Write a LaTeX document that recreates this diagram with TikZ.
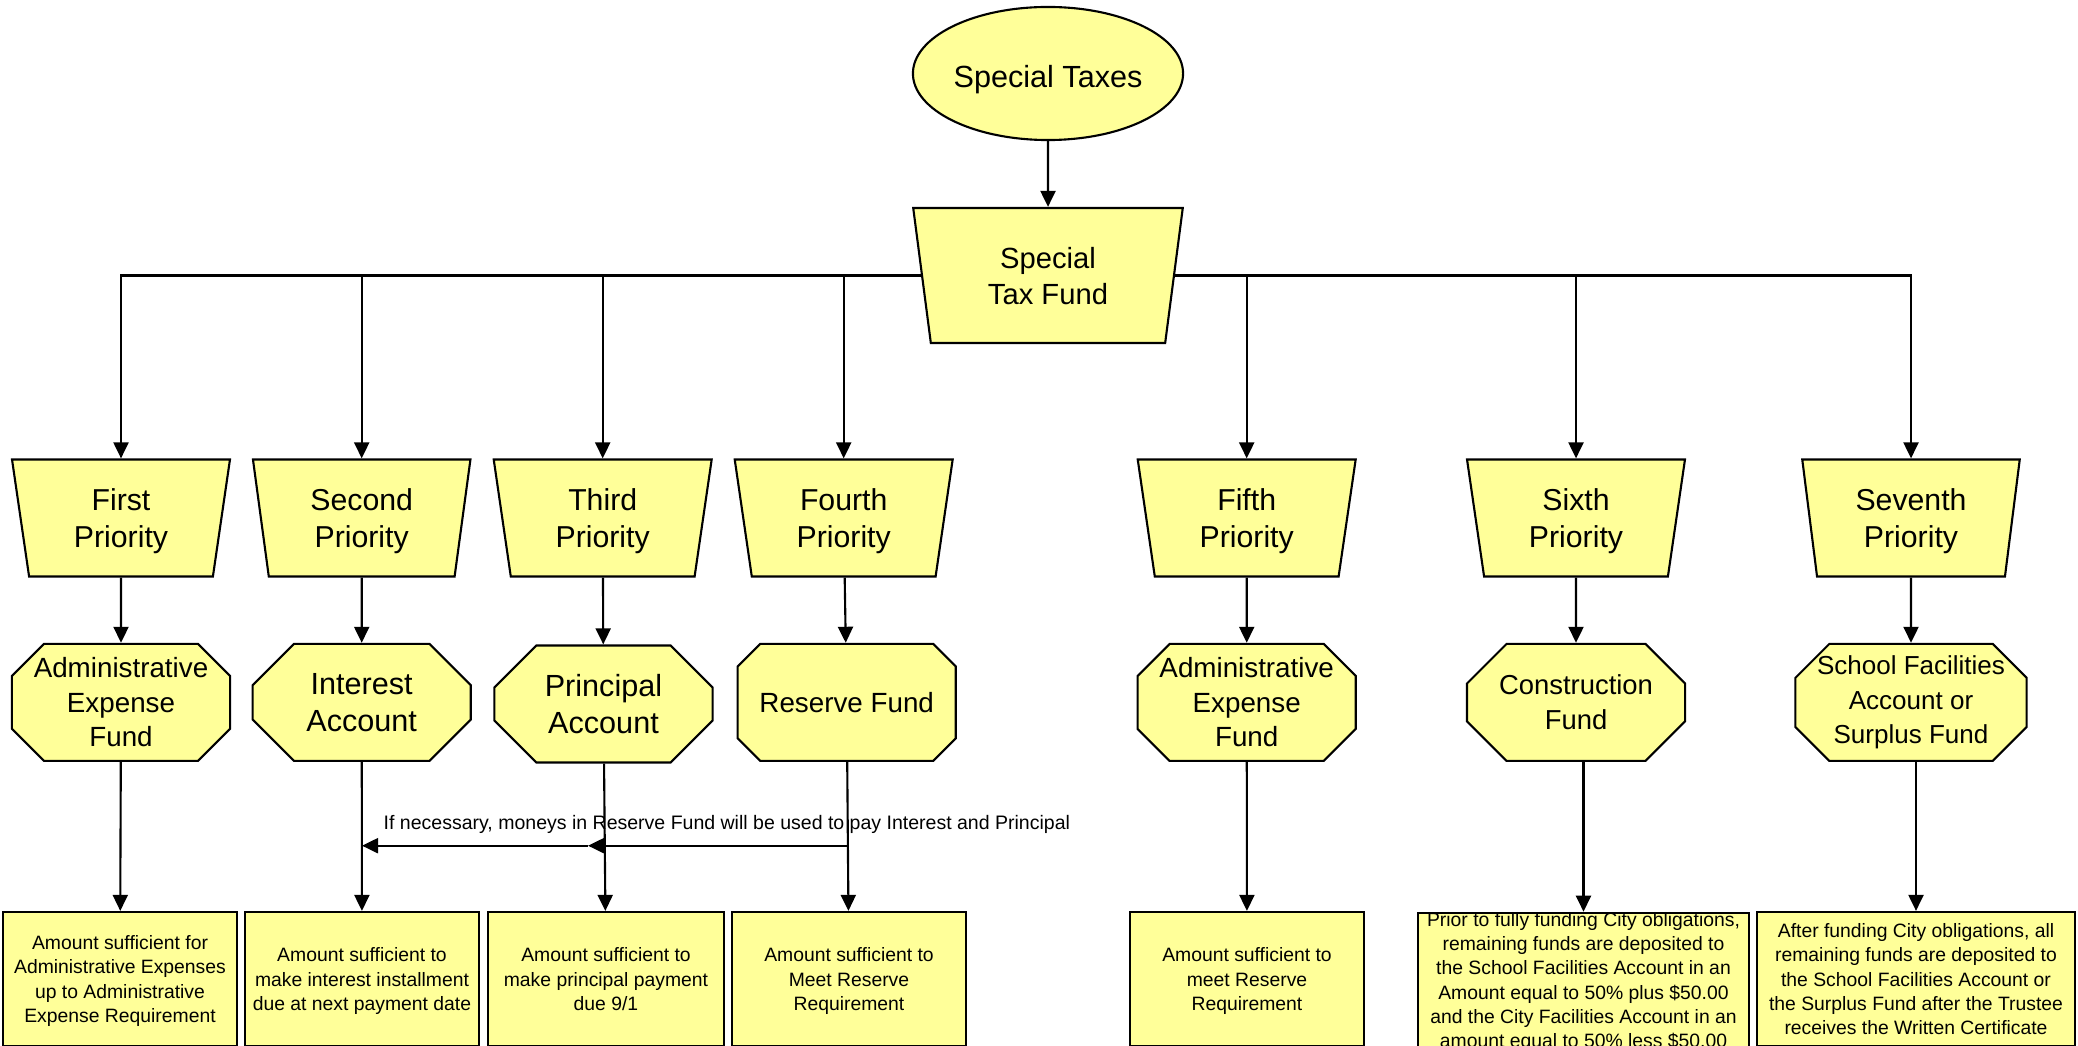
\documentclass[tikz,border=0pt]{standalone}
\usepackage{fontspec}
\setmainfont{Liberation Sans}
\usepackage{xcolor}
\usetikzlibrary{shapes.geometric,shapes.misc,arrows.meta}
\definecolor{fundyellow}{HTML}{FFFF99}

\begin{document}
\begin{tikzpicture}[x=0.01cm, y=-0.01cm, % one unit = one pixel of the page
    every node/.style={inner sep=0pt, align=center},
    outline/.style={draw, line width=0.6pt, fill=fundyellow},
    priority/.style={outline, trapezium, trapezium left angle=98.5, trapezium right angle=98.5, text depth=0pt,
        trapezium stretches, minimum width=2.18cm, minimum height=1.17cm, font=\fontsize{8.6}{10.4}\selectfont},
    account/.style={outline, chamfered rectangle, chamfered rectangle xsep=0.34cm,
        minimum width=2.18cm, minimum height=1.17cm, font=\fontsize{7.9}{9.8}\selectfont},
    tall/.style={inner ysep=-0.25cm}, % three lines of text inside an octagon
    amount/.style={outline, rectangle, minimum width=2.34cm, minimum height=1.34cm, text depth=0pt,
        font=\fontsize{5.5}{6.85}\selectfont},
    flow/.style={line width=0.6pt, -{Triangle[length=1.6mm, width=1.5mm]}}]

        \useasboundingbox (0,0) rectangle (2078,1046);

        % Source of the money
        \node[outline, ellipse, minimum width=2.70cm, minimum height=1.33cm, text height=0.28cm, text depth=0pt,
            font=\fontsize{8.7}{10.4}\selectfont] (taxes) at (1048,73.5) {Special Taxes};
        \node[priority, trapezium left angle=99, trapezium right angle=99, minimum width=2.70cm, minimum height=1.35cm,
            font=\fontsize{8.3}{10.2}\selectfont] (fund) at (1048,275.5) {Special\\Tax Fund};
        \draw[flow] (taxes) -- (fund);

        % Priorities
        \node[priority] (p1) at (121,518) {First\\Priority};
        \node[priority] (p2) at (361.7,518) {Second\\Priority};
        \node[priority] (p3) at (602.7,518) {Third\\Priority};
        \node[priority] (p4) at (843.7,518) {Fourth\\Priority};
        \node[priority] (p5) at (1246.7,518) {Fifth\\Priority};
        \node[priority] (p6) at (1576,518) {Sixth\\Priority};
        \node[priority] (p7) at (1911,518) {Seventh\\Priority};

        % Funds and accounts
        \node[account, tall] (f1) at (121,702.4) {Administrative\\Expense\\Fund};
        \node[account, font=\fontsize{8.7}{10.4}\selectfont] (f2) at (361.7,702.4) {Interest\\Account};
        \node[account, font=\fontsize{8.7}{10.4}\selectfont] (f3) at (603.5,704) {Principal\\Account};
        \node[account] (f4) at (846.7,702.4) {Reserve Fund};
        \node[account, tall] (f5) at (1246.7,702.4) {Administrative\\Expense\\Fund};
        \node[account, font=\fontsize{7.8}{9.8}\selectfont] (f6) at (1576,702.4) {Construction\\Fund};
        \node[account, tall, minimum width=2.28cm, font=\fontsize{7.4}{9.8}\selectfont] (f7) at (1911,702.4) {School Facilities\\Account or\\Surplus Fund};

        % Amounts deposited
        \node[amount] (a1) at (120,979) {Amount sufficient for\\Administrative Expenses\\up to Administrative\\Expense Requirement};
        \node[amount] (a2) at (362,979) {Amount sufficient to\\make interest installment\\due at next payment date};
        \node[amount, minimum width=2.36cm] (a3) at (606,979) {Amount sufficient to\\make principal payment\\due 9/1};
        \node[amount] (a4) at (849,979) {Amount sufficient to\\Meet Reserve\\Requirement};
        \node[amount] (a5) at (1247,979) {Amount sufficient to\\meet Reserve\\Requirement};
        \node[amount, minimum width=3.30cm] (a6) at (1583.5,980) {Prior to fully funding City obligations,\\remaining funds are deposited to\\the School Facilities Account in an\\Amount equal to 50\% plus \$50.00\\and the City Facilities Account in an\\amount equal to 50\% less \$50.00};
        \node[amount, minimum width=3.18cm] (a7) at (1916,979) {After funding City obligations, all\\remaining funds are deposited to\\the School Facilities Account or\\the Surplus Fund after the Trustee\\receives the Written Certificate};

        % Fund to each priority
        \draw[flow] (fund.west) -| (p1.north);
        \draw[flow] (fund.west) -| (p2.north);
        \draw[flow] (fund.west) -| (p3.north);
        \draw[flow] (fund.west) -| (p4.north);
        \draw[flow] (fund.east) -| (p5.north);
        \draw[flow] (fund.east) -| (p6.north);
        \draw[flow] (fund.east) -| (p7.north);

        % Priority to fund, fund to amount
        \draw[flow] (p1) -- (f1);  \draw[flow] (f1) -- (a1);
        \draw[flow] (p2) -- (f2);  \draw[flow] (f2) -- (a2);
        \draw[flow] (p3) -- (f3);  \draw[flow] (f3) -- (a3);
        \draw[flow] (p4) -- (f4);  \draw[flow] (f4) -- (a4);
        \draw[flow] (p5) -- (f5);  \draw[flow] (f5) -- (a5);
        \draw[flow] (p6) -- (f6);  \draw[flow] (f6.south -| a6.north) -- (a6.north);
        \draw[flow] (p7) -- (f7);  \draw[flow] (f7.south -| a7.north) -- (a7.north);

        % Reserve Fund backing up Interest and Principal
        \coordinate (tapR) at (848,845.7);
        \coordinate (tapP) at (588,845.7);
        \coordinate (tapI) at (362,845.7);
        \draw[flow] (tapR) -- (tapP);
        \draw[flow] (tapP) -- (tapI);
        \node[anchor=base west, font=\fontsize{5.55}{6.7}\selectfont] (note) at (383,830) {If necessary, moneys in Reserve Fund will be used to pay Interest and Principal};
    \end{tikzpicture}
\end{document}
